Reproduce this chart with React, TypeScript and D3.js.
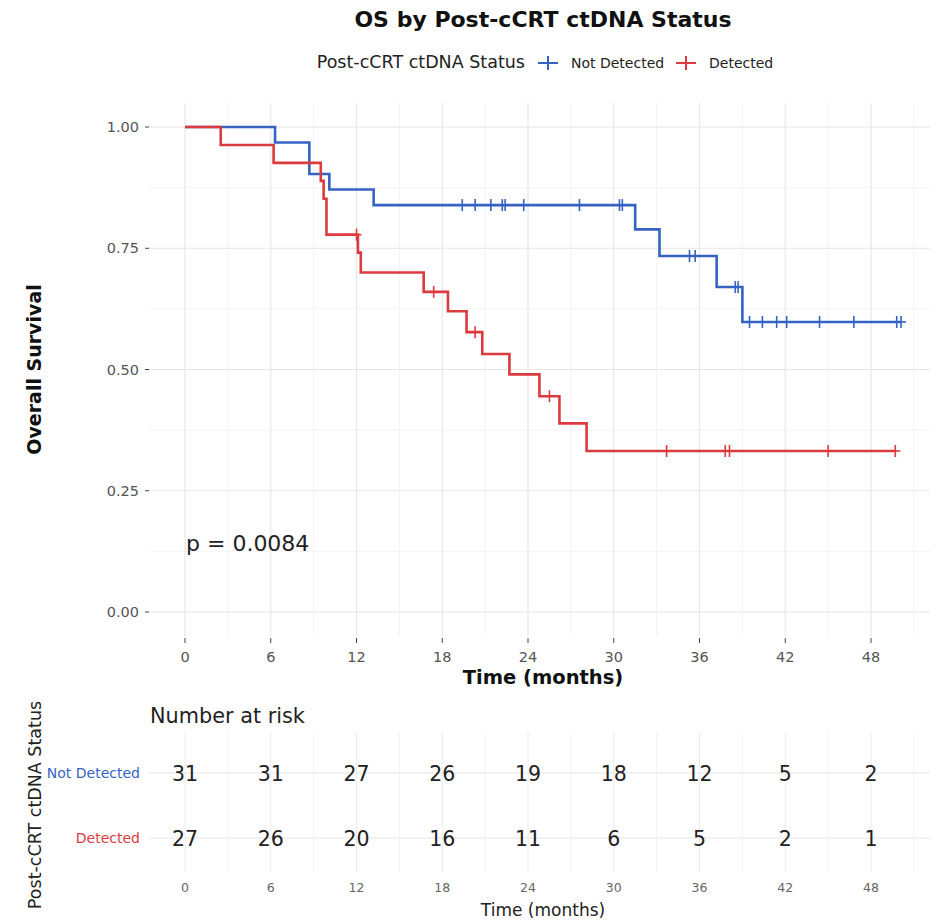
import React from "react";
import * as d3 from "d3";

// Kaplan–Meier step data (months, survival probability)
const notDetectedTimes = [0, 6.3, 8.7, 10.1, 13.2, 31.5, 33.2, 37.2, 39.0];
const notDetectedSurv = [1, 0.968, 0.903, 0.871, 0.839, 0.789, 0.734, 0.67, 0.598];
const notDetectedCensor = [19.4, 20.3, 21.4, 22.2, 22.4, 23.7, 27.6, 30.4, 30.6, 35.3, 35.7, 38.5, 38.7, 39.5, 40.4, 41.4, 42.1, 44.4, 46.8, 49.8, 50.1];
const notDetectedEnd = 50.1;

const detectedTimes = [0, 2.5, 6.2, 9.5, 9.7, 9.9, 12.1, 12.3, 16.7, 18.4, 19.7, 20.8, 22.7, 24.8, 26.2, 28.1];
const detectedSurv = [1, 0.963, 0.926, 0.889, 0.852, 0.778, 0.741, 0.7, 0.66, 0.62, 0.577, 0.532, 0.49, 0.445, 0.389, 0.332];
const detectedCensor = [12.0, 17.4, 20.3, 25.5, 33.7, 37.8, 38.1, 45.0, 49.7];
const detectedEnd = 49.7;

const groups = ["Not Detected", "Detected"];
const timeTicks = [0, 6, 12, 18, 24, 30, 36, 42, 48];
const survTicks = [0, 0.25, 0.5, 0.75, 1];
const atRiskNotDetected = [31, 31, 27, 26, 19, 18, 12, 5, 2];
const atRiskDetected = [27, 26, 20, 16, 11, 6, 5, 2, 1];

const BLUE = "#3563C4";
const RED = "#DB3A3E";
const FONT = "'DejaVu Sans', sans-serif";

const W = 939;
const H = 920;

const x = d3.scaleLinear().domain([0, 48]).range([185, 871]);
const y = d3.scaleLinear().domain([0, 1]).range([612, 127]);
const xMin = x.invert(149);
const xMax = x.invert(930);
const yMin = y.invert(636);
const yMax = y.invert(103);

function stepValue(times: number[], surv: number[], t: number) {
  let v = surv[0];
  for (let i = 0; i < times.length; i++) if (times[i] <= t) v = surv[i];
  return v;
}

function stepPath(times: number[], surv: number[], end: number) {
  const pts: [number, number][] = times.map((t, i) => [t, surv[i]]);
  pts.push([end, surv[surv.length - 1]]);
  return d3
    .line<[number, number]>()
    .x((d) => x(d[0]))
    .y((d) => y(d[1]))
    .curve(d3.curveStepAfter)(pts) as string;
}

function Curve({ times, surv, censor, end, color }: { times: number[]; surv: number[]; censor: number[]; end: number; color: string }) {
  return (
    <g>
      <path d={stepPath(times, surv, end)} fill="none" stroke={color} strokeWidth={2.6} />
      {censor.map((t, i) => {
        const cx = x(t);
        const cy = y(stepValue(times, surv, t));
        return (
          <g key={i} stroke={color} strokeWidth={1.6}>
            <line x1={cx} x2={cx} y1={cy - 6} y2={cy + 6} />
            <line x1={cx - 5} x2={cx + 5} y1={cy} y2={cy} />
          </g>
        );
      })}
    </g>
  );
}

export default function App() {
  const majorX = timeTicks;
  const minorX = d3.range(-3, 54, 6).filter((v) => v >= xMin && v <= xMax);
  const minorY = [0.125, 0.375, 0.625, 0.875];

  // risk table layout
  const rowY = [773, 838];
  const tableTop = 732;
  const tableBottom = 872;

  return (
    <svg width={W} height={H} style={{ position: "absolute", left: 0, top: 0, fontFamily: FONT }}>
      <rect width={W} height={H} fill="#fff" />

      {/* title */}
      <text x={543} y={27} textAnchor="middle" fontSize={22} fontWeight="bold" fill="#111">
        OS by Post-cCRT ctDNA Status
      </text>

      {/* legend */}
      <g>
        <text x={525} y={68} textAnchor="end" fontSize={17.5} fill="#222">Post-cCRT ctDNA Status</text>
        <g stroke={BLUE} strokeWidth={2}>
          <line x1={538} x2={558} y1={63} y2={63} />
          <line x1={548} x2={548} y1={56} y2={70} />
        </g>
        <text x={571} y={67.5} fontSize={14} fill="#222">{groups[0]}</text>
        <g stroke={RED} strokeWidth={2}>
          <line x1={676} x2={696} y1={63} y2={63} />
          <line x1={686} x2={686} y1={56} y2={70} />
        </g>
        <text x={709} y={67.5} fontSize={14} fill="#222">{groups[1]}</text>
      </g>

      {/* main panel grid */}
      <g>
        {minorY.map((v) => (
          <line key={"my" + v} x1={149} x2={930} y1={y(v)} y2={y(v)} stroke="#f3f3f3" strokeWidth={1} />
        ))}
        {minorX.map((v) => (
          <line key={"mx" + v} x1={x(v)} x2={x(v)} y1={103} y2={636} stroke="#f3f3f3" strokeWidth={1} />
        ))}
        {survTicks.map((v) => (
          <line key={"gy" + v} x1={149} x2={930} y1={y(v)} y2={y(v)} stroke="#e6e6e6" strokeWidth={1.1} />
        ))}
        {majorX.map((v) => (
          <line key={"gx" + v} x1={x(v)} x2={x(v)} y1={103} y2={636} stroke="#e6e6e6" strokeWidth={1.1} />
        ))}
      </g>

      {/* y axis */}
      <g>
        {survTicks.map((v) => (
          <g key={"yt" + v}>
            <line x1={145} x2={149} y1={y(v)} y2={y(v)} stroke="#444" strokeWidth={1} />
            <text x={139} y={y(v) + 5} textAnchor="end" fontSize={14.5} fill="#555">{v.toFixed(2)}</text>
          </g>
        ))}
        <text transform={`translate(41,${y((yMin + yMax) / 2)}) rotate(-90)`} textAnchor="middle" fontSize={19} fontWeight="bold" fill="#111">
          Overall Survival
        </text>
      </g>

      {/* x axis */}
      <g>
        {timeTicks.map((v) => (
          <g key={"xt" + v}>
            <line x1={x(v)} x2={x(v)} y1={638} y2={643} stroke="#444" strokeWidth={1} />
            <text x={x(v)} y={662} textAnchor="middle" fontSize={14.5} fill="#555">{v}</text>
          </g>
        ))}
        <text x={543} y={684} textAnchor="middle" fontSize={19.5} fontWeight="bold" fill="#111">Time (months)</text>
      </g>

      {/* curves */}
      <Curve times={notDetectedTimes} surv={notDetectedSurv} censor={notDetectedCensor} end={notDetectedEnd} color={BLUE} />
      <Curve times={detectedTimes} surv={detectedSurv} censor={detectedCensor} end={detectedEnd} color={RED} />

      <text x={186} y={551} fontSize={22} fill="#222">p = 0.0084</text>

      {/* risk table */}
      <g>
        <text x={150} y={723} fontSize={20.8} fill="#222">Number at risk</text>
        {minorX.map((v) => (
          <line key={"tmx" + v} x1={x(v)} x2={x(v)} y1={tableTop} y2={tableBottom} stroke="#f3f3f3" strokeWidth={1} />
        ))}
        {majorX.map((v) => (
          <line key={"tgx" + v} x1={x(v)} x2={x(v)} y1={tableTop} y2={tableBottom} stroke="#ececec" strokeWidth={1} />
        ))}
        {rowY.map((ry) => (
          <line key={"tr" + ry} x1={149} x2={930} y1={ry} y2={ry} stroke="#e6e6e6" strokeWidth={1.1} />
        ))}
        <text x={140} y={rowY[0] + 5} textAnchor="end" fontSize={14} fill={BLUE}>{groups[0]}</text>
        <text x={140} y={rowY[1] + 5} textAnchor="end" fontSize={14} fill={RED}>{groups[1]}</text>
        {atRiskNotDetected.map((n, i) => (
          <text key={"nd" + i} x={x(timeTicks[i])} y={rowY[0] + 8} textAnchor="middle" fontSize={20.5} fill="#222">{n}</text>
        ))}
        {atRiskDetected.map((n, i) => (
          <text key={"d" + i} x={x(timeTicks[i])} y={rowY[1] + 8} textAnchor="middle" fontSize={20.5} fill="#222">{n}</text>
        ))}
        {timeTicks.map((v) => (
          <text key={"tt" + v} x={x(v)} y={892} textAnchor="middle" fontSize={12.5} fill="#666">{v}</text>
        ))}
        <text x={543} y={916} textAnchor="middle" fontSize={17} fill="#222">Time (months)</text>
        <text transform={`translate(41,${805}) rotate(-90)`} textAnchor="middle" fontSize={17.5} fill="#222">
          Post-cCRT ctDNA Status
        </text>
      </g>
    </svg>
  );
}
